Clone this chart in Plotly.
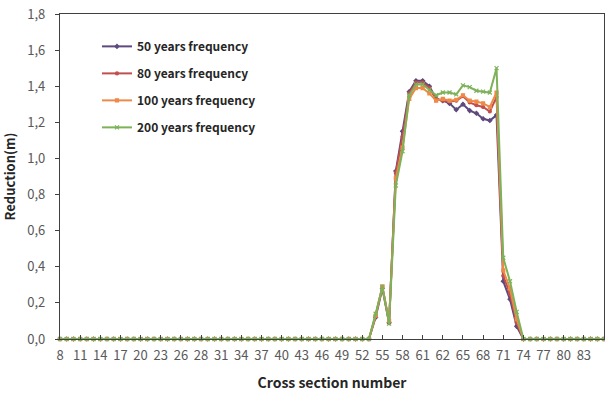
import plotly.graph_objects as go

categories = [
    "8", "9", "10", "11", "12", "13", "14", "15", "16", "17",
    "18", "19", "20", "21", "22", "23", "24", "25", "26", "27",
    "27-1", "28", "29", "30", "31", "32", "33", "34", "35", "36",
    "37", "38", "39", "40", "41", "42", "43", "44", "45", "46",
    "47", "48", "49", "50", "51", "52", "53", "54", "55", "56",
    "57", "58", "59", "60", "61", "61-1", "61-2", "62", "63", "64",
    "65", "66", "67", "68", "69", "70", "71", "72", "73", "74",
    "75", "76", "77", "78", "79", "80", "81", "82", "83", "84",
    "85", "86",
]

tick_labels = ["8", "11", "14", "17", "20", "23", "26", "28", "31", "34", "37", "40", "43",
               "46", "49", "52", "55", "58", "61", "62", "65", "68", "71", "74", "77", "80", "83"]

y50 = [
    0, 0, 0, 0, 0, 0, 0, 0, 0, 0, 0, 0, 0, 0, 0, 0, 0, 0, 0, 0,
    0, 0, 0, 0, 0, 0, 0, 0, 0, 0, 0, 0, 0, 0, 0, 0, 0, 0, 0, 0,
    0, 0, 0, 0, 0, 0, 0,
    0.12, 0.28, 0.09, 0.93, 1.15, 1.37, 1.43, 1.43, 1.40, 1.33, 1.32,
    1.305, 1.27, 1.30, 1.265, 1.25, 1.22, 1.21, 1.24, 0.32, 0.22, 0.07,
    0, 0, 0, 0, 0, 0, 0, 0, 0, 0, 0, 0, 0,
]
y80 = [
    0, 0, 0, 0, 0, 0, 0, 0, 0, 0, 0, 0, 0, 0, 0, 0, 0, 0, 0, 0,
    0, 0, 0, 0, 0, 0, 0, 0, 0, 0, 0, 0, 0, 0, 0, 0, 0, 0, 0, 0,
    0, 0, 0, 0, 0, 0, 0,
    0.13, 0.29, 0.09, 0.92, 1.12, 1.36, 1.42, 1.42, 1.39, 1.33, 1.32,
    1.315, 1.32, 1.345, 1.31, 1.295, 1.285, 1.26, 1.34, 0.35, 0.25, 0.09,
    0, 0, 0, 0, 0, 0, 0, 0, 0, 0, 0, 0, 0,
]
y100 = [
    0, 0, 0, 0, 0, 0, 0, 0, 0, 0, 0, 0, 0, 0, 0, 0, 0, 0, 0, 0,
    0, 0, 0, 0, 0, 0, 0, 0, 0, 0, 0, 0, 0, 0, 0, 0, 0, 0, 0, 0,
    0, 0, 0, 0, 0, 0, 0,
    0.13, 0.29, 0.10, 0.89, 1.06, 1.33, 1.39, 1.39, 1.36, 1.32, 1.33,
    1.32, 1.325, 1.35, 1.32, 1.315, 1.305, 1.285, 1.365, 0.38, 0.28, 0.11,
    0, 0, 0, 0, 0, 0, 0, 0, 0, 0, 0, 0, 0,
]
y200 = [
    0, 0, 0, 0, 0, 0, 0, 0, 0, 0, 0, 0, 0, 0, 0, 0, 0, 0, 0, 0,
    0, 0, 0, 0, 0, 0, 0, 0, 0, 0, 0, 0, 0, 0, 0, 0, 0, 0, 0, 0,
    0, 0, 0, 0, 0, 0, 0,
    0.14, 0.29, 0.085, 0.85, 1.04, 1.35, 1.41, 1.41, 1.38, 1.35, 1.365,
    1.365, 1.355, 1.405, 1.395, 1.375, 1.37, 1.365, 1.50, 0.45, 0.32, 0.15,
    0, 0, 0, 0, 0, 0, 0, 0, 0, 0, 0, 0, 0,
]

series_names = ["50 years frequency", "80 years frequency", "100 years frequency", "200 years frequency"]
series_values = [y50, y80, y100, y200]
series_colors = ["#5E4A7E", "#C0504D", "#EE8A48", "#7DB259"]
series_symbols = ["diamond", "circle", "square", "x-thin-open"]
series_msize = [3, 3, 3, 4]

FONT = "Noto Sans CJK KR"

fig = go.Figure()
for i, (name, vals, col, sym, ms) in enumerate(zip(series_names, series_values, series_colors,
                                                   series_symbols, series_msize)):
    fig.add_trace(go.Scatter(
        x=categories, y=vals, name=name, mode="lines+markers",
        line=dict(color=col, width=2),
        marker=dict(symbol=sym, size=ms, color=col, line=dict(color=col, width=1.2)),
        cliponaxis=False, legendgroup=f"g{i}",
    ))

fig.update_layout(
    width=605, height=394,
    margin=dict(l=60, r=1, t=14, b=55),
    paper_bgcolor="white", plot_bgcolor="white",
    separators=",.",
    font=dict(family=FONT, size=12, color="#595959"),
    showlegend=True,
    legend=dict(
        x=0.068, y=0.945, xanchor="left", yanchor="top",
        bgcolor="rgba(0,0,0,0)", tracegroupgap=8,
        font=dict(family=FONT, size=12, color="#262626", weight="bold"),
    ),
    xaxis=dict(
        type="category", categoryorder="array", categoryarray=categories,
        range=[0, len(categories) - 1],
        tickmode="array", tickvals=categories[0:3 * len(tick_labels):3], ticktext=tick_labels,
        ticks="inside", ticklen=4, tickcolor="#404040", tickwidth=1,
        ticklabelstandoff=4,
        showline=True, linecolor="#404040", linewidth=1.3, mirror=True,
        showgrid=False, zeroline=False,
        tickfont=dict(family=FONT, size=13, color="#595959"),
        title=dict(text="Cross section number", standoff=15,
                   font=dict(family=FONT, size=14, color="#262626", weight="bold")),
    ),
    yaxis=dict(
        range=[0, 1.8], dtick=0.2, tick0=0, tickformat=".1f",
        ticks="outside", ticklen=4, tickcolor="#404040",
        ticklabelstandoff=7,
        showline=True, linecolor="#404040", linewidth=1.3, mirror=True,
        showgrid=False, zeroline=False,
        tickfont=dict(family=FONT, size=13, color="#595959"),
        title=dict(text="Reduction(m)", standoff=8,
                   font=dict(family=FONT, size=13, color="#262626", weight="bold")),
    ),
)

fig.write_html("out.html", config={"displayModeBar": False},
               post_script="document.body.style.margin='0';document.body.style.padding='0';")
